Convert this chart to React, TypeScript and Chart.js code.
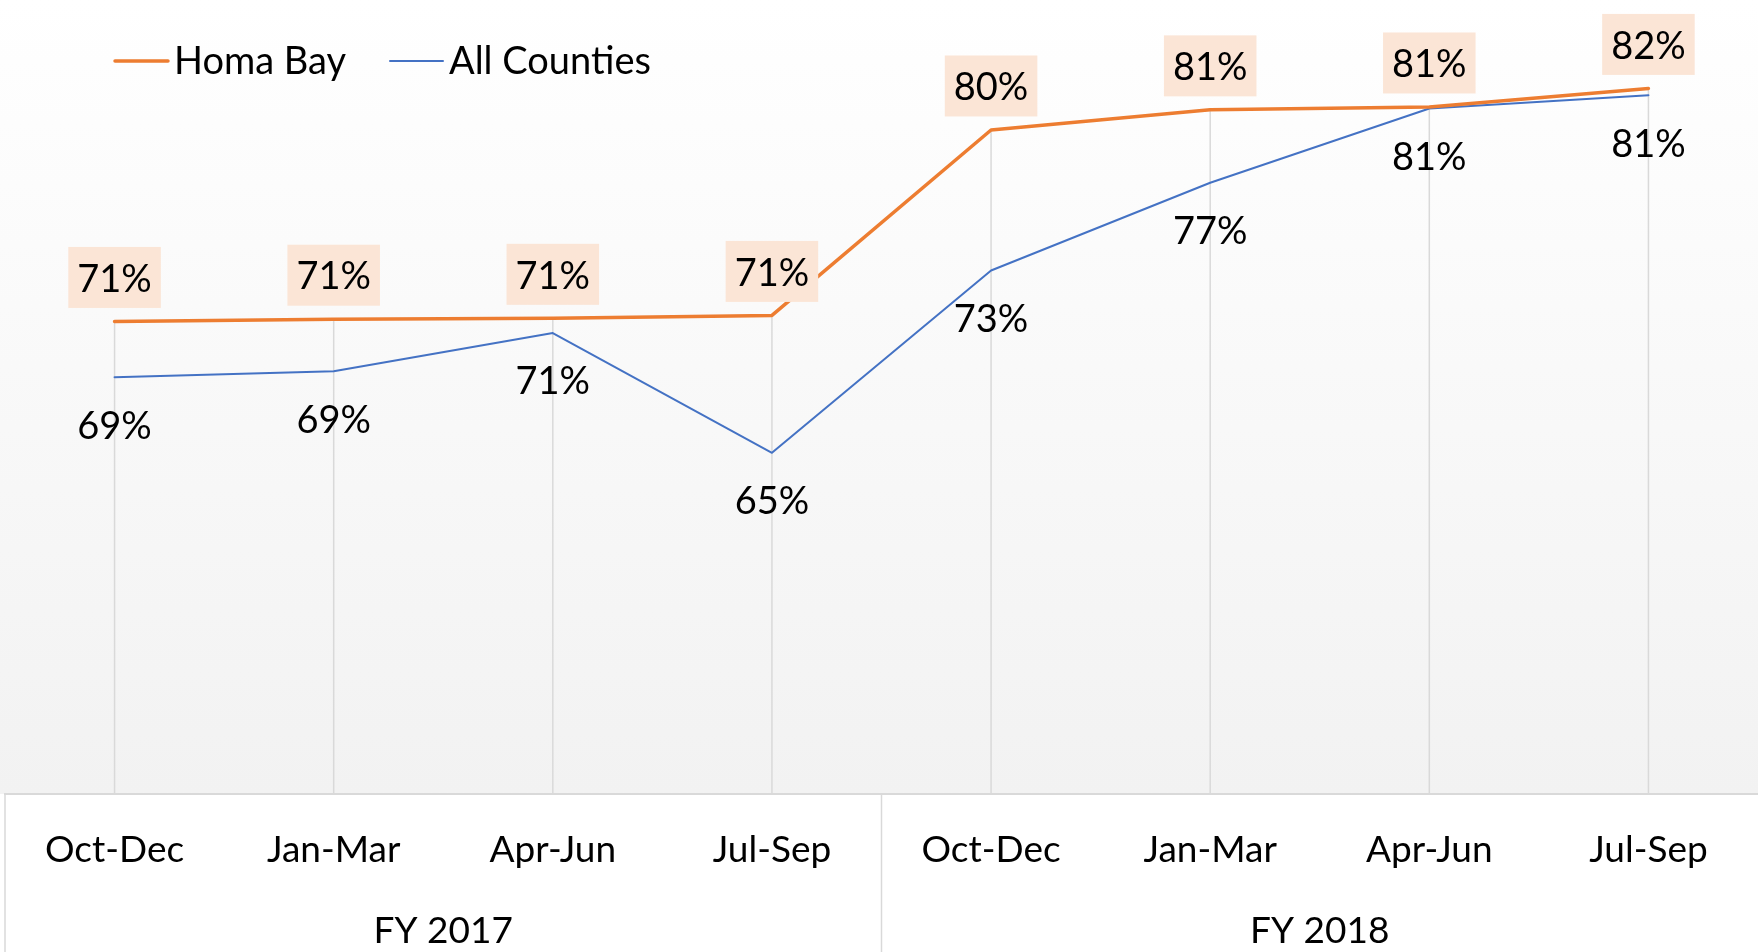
import React, { useEffect, useRef } from 'react';
import { Chart, registerables } from 'chart.js';

Chart.register(...registerables);

// ---- data ----
const quarters = ['Oct-Dec', 'Jan-Mar', 'Apr-Jun', 'Jul-Sep', 'Oct-Dec', 'Jan-Mar', 'Apr-Jun', 'Jul-Sep'];
const fiscalYears = ['FY 2017', 'FY 2018'];
const quartersPerYear = 4;
const homaBay = [0.7115, 0.7125, 0.7129, 0.7142, 0.7972, 0.8062, 0.8075, 0.8158];
const allCounties = [0.6865, 0.6892, 0.7063, 0.6527, 0.7343, 0.7736, 0.8068, 0.8127];
const seriesNames = ['Homa Bay', 'All Counties'];

const ORANGE = '#ED7D31';
const BLUE = '#4472C4';
const FONT = 'Lato';

const pct = (v: number) => Math.round(v * 100) + '%';

const backgroundPlugin = {
  id: 'bgGradient',
  beforeDraw(chart: any) {
    const { ctx, chartArea, width } = chart;
    ctx.save();
    const g = ctx.createLinearGradient(0, 0, 0, chartArea.bottom);
    g.addColorStop(0, '#FFFFFF');
    g.addColorStop(1, '#F2F2F2');
    ctx.fillStyle = g;
    ctx.fillRect(0, 0, width, chartArea.bottom);
    ctx.restore();
  },
};

const dropLinesPlugin = {
  id: 'dropLines',
  beforeDatasetsDraw(chart: any) {
    const { ctx, chartArea } = chart;
    const n = chart.data.labels.length;
    ctx.save();
    ctx.strokeStyle = '#D9D9D9';
    ctx.lineWidth = 1.5;
    for (let i = 0; i < n; i++) {
      let top = Infinity;
      let x = 0;
      chart.data.datasets.forEach((_: any, di: number) => {
        const el = chart.getDatasetMeta(di).data[i];
        if (el.y < top) top = el.y;
        x = el.x;
      });
      ctx.beginPath();
      ctx.moveTo(x, top);
      ctx.lineTo(x, chartArea.bottom);
      ctx.stroke();
    }
    ctx.restore();
  },
};

const frameAndGroupsPlugin = {
  id: 'frameGroups',
  afterDraw(chart: any) {
    const { ctx, chartArea, height } = chart;
    const xs = chart.scales.x;
    const step = xs.getPixelForValue(1) - xs.getPixelForValue(0);
    ctx.save();
    ctx.strokeStyle = '#D9D9D9';
    ctx.lineWidth = 1.5;
    ctx.beginPath();
    ctx.moveTo(chartArea.left, chartArea.bottom);
    ctx.lineTo(chartArea.left, height);
    ctx.stroke();
    fiscalYears.forEach((fy, gi) => {
      const first = gi * quartersPerYear;
      const last = first + quartersPerYear - 1;
      const left = xs.getPixelForValue(first) - step / 2;
      const right = xs.getPixelForValue(last) + step / 2;
      if (gi > 0) {
        ctx.beginPath();
        ctx.moveTo(left, chartArea.bottom);
        ctx.lineTo(left, height);
        ctx.stroke();
      }
      ctx.fillStyle = '#000000';
      ctx.font = `37px ${FONT}`;
      ctx.textAlign = 'center';
      ctx.textBaseline = 'alphabetic';
      ctx.fillText(fy, (left + right) / 2, chartArea.bottom + 149);
    });
    ctx.restore();
  },
};

const dataLabelsPlugin = {
  id: 'valueLabels',
  afterDatasetsDraw(chart: any) {
    const { ctx } = chart;
    ctx.save();
    ctx.font = `38px ${FONT}`;
    ctx.textAlign = 'center';
    ctx.textBaseline = 'middle';
    // Homa Bay: above with shaded box
    const m0 = chart.getDatasetMeta(0);
    m0.data.forEach((el: any, i: number) => {
      const txt = pct(chart.data.datasets[0].data[i]);
      const w = ctx.measureText(txt).width + 18;
      const cy = el.y - 44;
      ctx.fillStyle = '#FBE5D6';
      ctx.fillRect(el.x - w / 2, cy - 30.5, w, 61);
      ctx.fillStyle = '#000000';
      ctx.fillText(txt, el.x, cy + 2);
    });
    // All Counties: below, plain
    const m1 = chart.getDatasetMeta(1);
    m1.data.forEach((el: any, i: number) => {
      const txt = pct(chart.data.datasets[1].data[i]);
      ctx.fillStyle = '#000000';
      ctx.fillText(txt, el.x, el.y + 49);
    });
    ctx.restore();
  },
};

const legendPlugin = {
  id: 'customLegend',
  afterDraw(chart: any) {
    const { ctx } = chart;
    const items = [
      { x: 115, color: ORANGE, w: 3.5 },
      { x: 390, color: BLUE, w: 2 },
    ];
    ctx.save();
    ctx.font = `38px ${FONT}`;
    ctx.textAlign = 'left';
    ctx.textBaseline = 'alphabetic';
    items.forEach((it, i) => {
      ctx.strokeStyle = it.color;
      ctx.lineWidth = it.w;
      ctx.lineCap = 'round';
      ctx.beginPath();
      ctx.moveTo(it.x, 61);
      ctx.lineTo(it.x + 53, 61);
      ctx.stroke();
      ctx.fillStyle = '#000000';
      ctx.fillText(chart.data.datasets[i].label, it.x + 59, 74);
    });
    ctx.restore();
  },
};

export default function App() {
  const ref = useRef<HTMLCanvasElement>(null);
  useEffect(() => {
    if (!ref.current) return;
    const chart = new Chart(ref.current, {
      type: 'line',
      data: {
        labels: quarters,
        datasets: [
          {
            label: seriesNames[0],
            data: homaBay,
            borderColor: ORANGE,
            backgroundColor: ORANGE,
            borderWidth: 3.5,
            pointRadius: 0,
            tension: 0,
            borderCapStyle: 'round',
            borderJoinStyle: 'round',
          },
          {
            label: seriesNames[1],
            data: allCounties,
            borderColor: BLUE,
            backgroundColor: BLUE,
            borderWidth: 2,
            pointRadius: 0,
            tension: 0,
            borderCapStyle: 'round',
            borderJoinStyle: 'round',
          },
        ],
      },
      options: {
        responsive: false,
        animation: false,
        layout: { padding: { left: 5, right: 0, top: 12, bottom: 0 } },
        plugins: {
          legend: { display: false },
          tooltip: { enabled: false },
        },
        scales: {
          x: {
            type: 'category',
            offset: true,
            grid: { display: false, drawTicks: false },
            border: { display: true, color: '#D9D9D9', width: 2 },
            ticks: {
              color: '#000000',
              font: { family: FONT, size: 37 },
              padding: 34,
              maxRotation: 0,
              autoSkip: false,
            },
            afterFit: (scale: any) => {
              scale.height = 158;
            },
          },
          y: {
            display: false,
            min: 0.5,
            max: 0.85,
          },
        },
      },
      plugins: [backgroundPlugin, dropLinesPlugin, dataLabelsPlugin, frameAndGroupsPlugin, legendPlugin],
    });
    return () => chart.destroy();
  }, []);

  return (
    <div style={{ position: 'fixed', left: 0, top: 0, width: 1758, height: 952, background: '#FFFFFF' }}>
      <canvas ref={ref} width={1758} height={952} style={{ display: 'block' }} />
    </div>
  );
}
